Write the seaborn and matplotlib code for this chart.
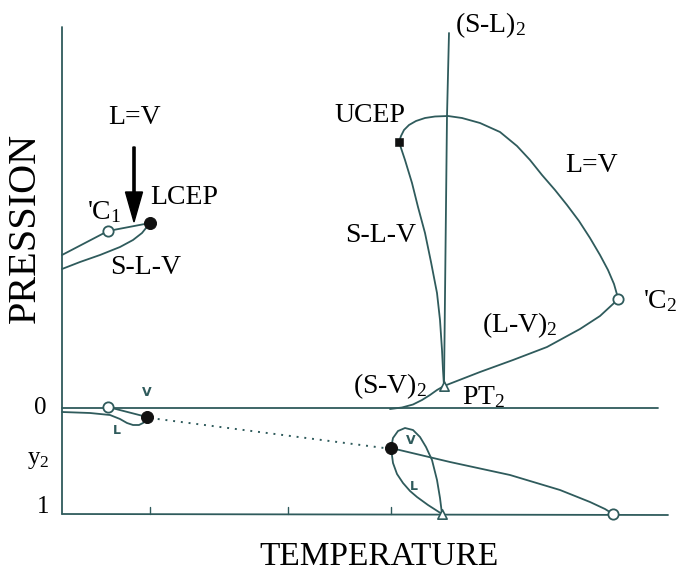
import matplotlib
matplotlib.use("Agg")
import matplotlib.pyplot as plt
import seaborn as sns
import pandas as pd

# ---- schematic data (temperature-like x, pressure-like y; y axis points down) ----
axis_left_x = [62, 62];            axis_left_y = [27, 514]
zero_line_x = [62, 658];           zero_line_y = [408, 408]
bottom_line_x = [62, 668];         bottom_line_y = [514, 515]
sl2_x = [449, 447, 444];           sl2_y = [33, 116, 386]

c1_line_x = [62, 108, 150];        c1_line_y = [255, 231, 223]
slv1_x = [62, 80, 100, 120, 133, 142, 150]
slv1_y = [269, 262, 255, 247, 240, 233, 223]

ucep_lv_x = [399, 401, 404, 409, 416, 425, 435, 448, 462, 480, 500, 517, 530, 542, 555, 567,
             579, 590, 600, 608, 614, 618]
ucep_lv_y = [142, 136, 130, 125, 121, 118, 116.5, 116, 118, 123, 132, 146, 160, 175, 190, 205,
             221, 238, 255, 270, 284, 298]
slv2_x = [399, 405, 412, 418, 425, 431, 437, 440, 442, 443, 444]
slv2_y = [142, 160, 183, 207, 233, 262, 293, 320, 350, 370, 386]
lv2_x = [444, 480, 513, 547, 580, 600, 613, 618]
lv2_y = [386, 372, 360, 347, 329, 316, 304, 299]
sv2_x = [390, 402, 413, 422, 430, 437, 444]
sv2_y = [409, 407.5, 404.5, 400, 395, 390, 386]

low_v1_x = [108, 147];             low_v1_y = [407, 417]
low_l1_x = [62, 90, 110, 120, 127, 133, 139, 143, 146, 147]
low_l1_y = [412, 413, 415, 419, 423, 425, 425, 423, 420, 417]
dotted_x = [150, 392];             dotted_y = [418, 449]

loop_v_x = [391, 393, 398, 405, 413, 420, 426, 432, 437, 440, 442]
loop_v_y = [448, 438, 431, 428, 430, 437, 447, 460, 480, 498, 514]
loop_l_x = [391, 393, 397, 403, 410, 417, 428, 442]
loop_l_y = [448, 463, 474, 483, 491, 497, 505, 514]
c2_low_x = [391, 450, 510, 560, 590, 605, 613]
c2_low_y = [448, 462, 475, 490, 502, 509, 514]

tick_x = [150, 288, 391]

open_circle_x = [108, 618, 108, 613]; open_circle_y = [231, 299, 407, 514]
filled_circle_x = [150, 147, 391];    filled_circle_y = [223, 417, 448]
square_x = [399];                     square_y = [142]
triangle_x = [444, 442];              triangle_y = [386, 514]

arrow_x = 134; arrow_y_start = 147; arrow_y_end = 222

labels = [
    ("L=V", 135, 118, 20), ("LCEP", 184, 198, 20), ("'C$_1$", 104, 212, 20),
    ("S-L-V", 146, 268, 20), ("UCEP", 370, 116, 20), ("(S-L)$_2$", 491, 25, 20),
    ("L=V", 592, 166, 20), ("S-L-V", 381, 235, 20), ("(L-V)$_2$", 520, 325, 20),
    ("'C$_2$", 660, 301, 20), ("(S-V)$_2$", 390, 386, 20), ("PT$_2$", 484, 397, 20),
    ("0", 40, 408, 18), ("y$_2$", 38, 460, 18), ("1", 43, 507, 18),
    ("TEMPERATURE", 379, 557, 24),
]
small_labels = [("V", 147, 392), ("L", 117, 430), ("V", 411, 441), ("L", 414, 487)]

# ---- drawing ----
sns.set_theme(style="white")
plt.rcParams["font.family"] = ["Liberation Serif", "DejaVu Serif"]
plt.rcParams["mathtext.fontset"] = "custom"
plt.rcParams["mathtext.rm"] = "Liberation Serif"
plt.rcParams["mathtext.it"] = "Liberation Serif"

LC = "#2f5b5c"
fig = plt.figure(figsize=(6.77, 5.73), dpi=100)
ax = fig.add_axes([0, 0, 1, 1])
ax.set_xlim(0, 677)
ax.set_ylim(573, 0)
ax.axis("off")

def curve(xs, ys, **kw):
    df = pd.DataFrame({"T": xs, "P": ys})
    style = dict(color=LC, lw=1.3)
    style.update(kw)
    sns.lineplot(data=df, x="T", y="P", sort=False, estimator=None, ax=ax, legend=False, **style)

for xs, ys in [(axis_left_x, axis_left_y), (zero_line_x, zero_line_y), (bottom_line_x, bottom_line_y),
               (sl2_x, sl2_y), (c1_line_x, c1_line_y), (slv1_x, slv1_y), (ucep_lv_x, ucep_lv_y),
               (slv2_x, slv2_y), (lv2_x, lv2_y), (sv2_x, sv2_y), (low_v1_x, low_v1_y),
               (low_l1_x, low_l1_y), (loop_v_x, loop_v_y), (loop_l_x, loop_l_y), (c2_low_x, c2_low_y)]:
    curve(xs, ys)
curve(dotted_x, dotted_y, dashes=(1, 3), lw=1.4)

for tx in tick_x:
    curve([tx, tx], [507, 514], lw=1.0)

sns.scatterplot(x=open_circle_x, y=open_circle_y, ax=ax, marker="o", s=55,
                facecolor="white", edgecolor=LC, linewidth=1.3, zorder=5, legend=False)
sns.scatterplot(x=filled_circle_x, y=filled_circle_y, ax=ax, marker="o", s=75,
                color="#111111", edgecolor="#111111", zorder=5, legend=False)
sns.scatterplot(x=square_x, y=square_y, ax=ax, marker="s", s=30,
                color="#111111", edgecolor="#111111", zorder=5, legend=False)
sns.scatterplot(x=triangle_x, y=triangle_y, ax=ax, marker="^", s=45,
                facecolor="white", edgecolor=LC, linewidth=1.2, zorder=5, legend=False)

ax.arrow(arrow_x, arrow_y_start, 0, arrow_y_end - arrow_y_start, width=2.2, head_width=17,
         head_length=30, length_includes_head=True, color="black")

for txt, x, y, fs in labels:
    ax.text(x, y, txt, ha="center", va="center", fontsize=fs, color="black")
ax.text(25, 228, "PRESSION", rotation=90, ha="center", va="center", fontsize=29, color="black")
for txt, x, y in small_labels:
    ax.text(x, y, txt, ha="center", va="center", fontsize=9, fontweight="bold",
            family="DejaVu Sans", color=LC)

fig.savefig("out.png", dpi=100, facecolor="white")
